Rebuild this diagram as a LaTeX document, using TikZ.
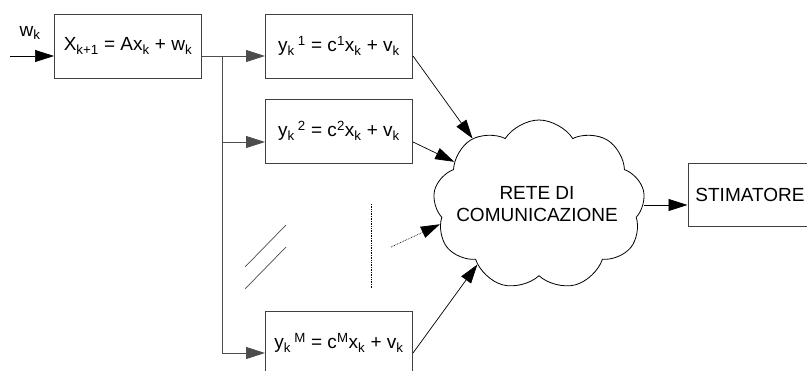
\documentclass[tikz,border=0pt]{standalone}
\usepackage{fontspec}
\setmainfont{Liberation Sans}
\usetikzlibrary{arrows.meta,shapes.symbols}

\begin{document}
\begin{tikzpicture}[x=1pt, y=-1pt,
	>={Triangle[length=19pt, width=12pt]},
	block/.style={draw=black!75, line width=1pt, minimum width=147pt, minimum height=64pt, inner sep=0pt},
	wire/.style={draw=black!70, line width=1pt},
	link/.style={draw=black, line width=0.7pt}]
	\useasboundingbox (0,0) rectangle (807,370);
	\clip (0,0) rectangle (807,370);
	\tikzstyle{every node}=[align=center, font=\fontsize{19}{22}\selectfont]
	\node[block] (F) at (128, 46) {X\textsubscript{k+1} = Ax\textsubscript{k} + w\textsubscript{k}};
	\node (w) at (30, 33) {w\textsubscript{k}};
	\node[block] (Y1) at (339, 46) {y\textsubscript{k}\,\textsuperscript{1} = c\textsuperscript{1}x\textsubscript{k} + v\textsubscript{k}};
	\node[block] (Y2) at (339, 131) {y\textsubscript{k}\,\textsuperscript{2} = c\textsuperscript{2}x\textsubscript{k} + v\textsubscript{k}};
	\node[block] (YM) at (339, 343) {y\textsubscript{k}\,\textsuperscript{M} = c\textsuperscript{M}x\textsubscript{k} + v\textsubscript{k}};
	\node[cloud, cloud puffs=9, cloud puff arc=115, draw, line width=0.8pt, minimum width=212pt, minimum height=170pt, inner sep=0pt] (net) at (539, 205) {};
	\node (netlabel) at (537, 204) {RETE DI\\COMUNICAZIONE};
	\node[block, minimum width=124pt, minimum height=63pt] (est) at (750, 194.5) {STIMATORE};

	\coordinate (in) at (10, 56);
	\coordinate (split) at (222, 56);
	\coordinate (in2) at (222, 142);
	\coordinate (inM) at (222, 353);

	\draw[->, link] (in) to (in -| F.west);
	\draw[wire] (F.east |- split) -- (split) -- (inM);
	\draw[->, wire] (split) to (split -| Y1.west);
	\draw[->, wire] (in2) to (in2 -| Y2.west);
	\draw[->, wire] (inM) to (inM -| YM.west);

	\draw[->, link] (Y1.east |- split) to (net.135);
	\draw[->, link] (Y2.east |- in2) to (net.153);
	\draw[->, link] (YM.east |- inM) to (net.224);
	\draw[->, link, densely dotted] (391, 247) to (net.191);
	\draw[->, link] (net.east) to (net.east -| est.west);

	% dots between branches
	\draw[link, densely dotted] (371, 204) -- (371, 288);
	\draw[link, black!70] (245, 267) -- (286, 225);
	\draw[link, black!70] (245, 289) -- (286, 247);
\end{tikzpicture}
\end{document}
